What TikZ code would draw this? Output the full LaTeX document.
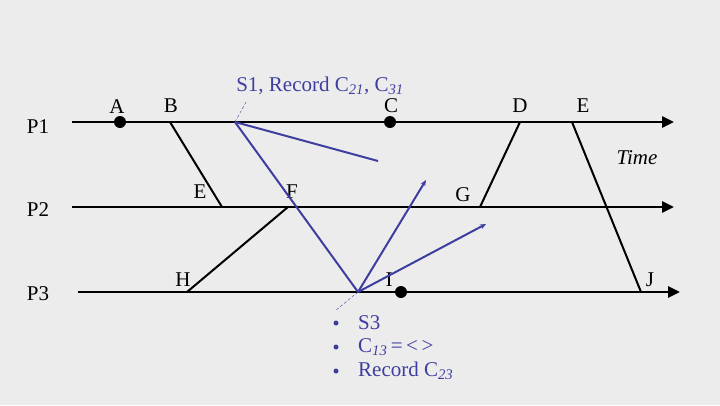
\documentclass[tikz,border=0pt]{standalone}
\usepackage{fontspec}
\setmainfont{Liberation Serif}
\usetikzlibrary{arrows.meta}
\definecolor{bg}{RGB}{236,236,236}
\definecolor{bluel}{RGB}{62,62,160}
\begin{document}
\begin{tikzpicture}[x=1pt,y=-1pt,
  txt/.style={font=\fontsize{21}{25}\selectfont, inner sep=0pt},
  btxt/.style={txt, text=bluel},
  proc/.style={line width=2.8pt, -{Triangle[length=12pt,width=11pt]}},
  msg/.style={line width=2pt},
  bmsg/.style={line width=2pt, draw=bluel},
  barr/.style={bmsg, -{Stealth[length=6pt,width=5pt]}},
  dot/.style={circle, fill=black, minimum size=12pt, inner sep=0pt},
  dsh/.style={thin, draw=bluel, dash pattern=on 3pt off 2pt}]
\fill[bg] (0,0) rectangle (720,405);
\useasboundingbox (0,0) rectangle (720,405);
% process lines
\coordinate (p1s) at (72,122); \coordinate (p1e) at (674,122);
\coordinate (p2s) at (72,207); \coordinate (p2e) at (674,207);
\coordinate (p3s) at (78,292); \coordinate (p3e) at (680,292);
\draw[proc] (p1s) -- (p1e);
\draw[proc] (p2s) -- (p2e);
\draw[proc] (p3s) -- (p3e);
\node[txt] (P1) at (38,127) {P1};
\node[txt] (P2) at (38,210) {P2};
\node[txt] (P3) at (38,294) {P3};
% events
\node[dot] (dA) at (120,122) {};
\node[dot] (dC) at (390,122) {};
\node[dot] (dI) at (401,292) {};
\node[txt] (lA) at (117,107) {A};
\node[txt] (lB) at (171,106) {B};
\node[txt] (lC) at (391,106) {C};
\node[txt] (lD) at (520,106) {D};
\node[txt] (lE) at (583,106) {E};
\node[txt] (lE2) at (200,192) {E};
\node[txt] (lF) at (292,192) {F};
\node[txt] (lG) at (463,195) {G};
\node[txt] (lH) at (183,280) {H};
\node[txt] (lI) at (389,280) {I};
\node[txt] (lJ) at (650,280) {J};
\node[txt, font=\fontsize{21}{25}\selectfont\itshape] (time) at (637,158) {Time};
% message endpoints
\coordinate (B) at (170,122); \coordinate (E2) at (222,207);
\coordinate (H) at (187,292); \coordinate (F) at (288,207);
\coordinate (G) at (480,207); \coordinate (D) at (520,122);
\coordinate (E) at (572,122); \coordinate (J) at (641,292);
\draw[msg] (B) -- (E2);
\draw[msg] (H) -- (F);
\draw[msg] (G) -- (D);
\draw[msg] (E) -- (J);
% snapshot markers
\coordinate (S1) at (235,122); \coordinate (S3) at (358,292);
\coordinate (m1) at (378,161);
\coordinate (m2) at (426,180);
\coordinate (m3) at (486,224);
\draw[bmsg] (S1) -- (m1);
\draw[bmsg] (S1) -- (S3);
\draw[barr] (S3) -- (m2);
\draw[barr] (S3) -- (m3);
\coordinate (d1) at (246,102);
\coordinate (d3) at (335,311);
\draw[dsh] (S1) -- (d1);
\draw[dsh] (S3) -- (d3);
\node[btxt] (s1lab) at (320,86) {S1, Record C\textsubscript{\textit{21}}, C\textsubscript{\textit{31}}};
\node[btxt, anchor=west] (b1) at (358,323) {S3};
\node[btxt, anchor=west] (b2) at (358,347) {C\textsubscript{\textit{13}}\,=\,<\,>};
\node[btxt, anchor=west] (b3) at (358,371) {Record C\textsubscript{\textit{23}}};
\foreach \y/\n in {323/1,347/2,371/3}
  \node[circle, fill=bluel, minimum size=5pt, inner sep=0pt] (bul\n) at (336,\y) {};
\end{tikzpicture}
\end{document}
